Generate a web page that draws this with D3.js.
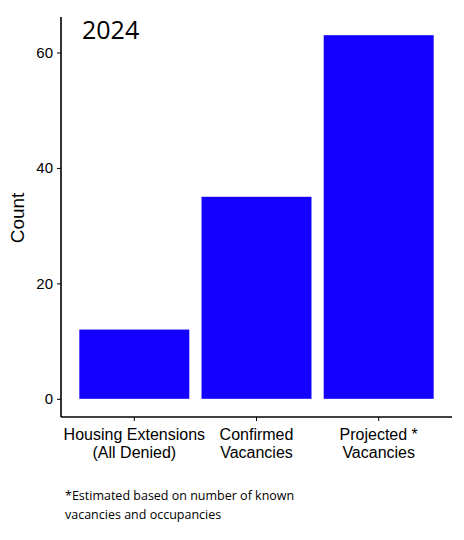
<!DOCTYPE html>
<html>
<head>
<meta charset="utf-8">
<script src="https://cdn.jsdelivr.net/npm/d3@7"></script>
<style>
  body { margin: 0; background: #fff; }
  text { font-family: "Liberation Sans", Arial, sans-serif; }
</style>
</head>
<body>
<svg id="chart" width="464" height="540"></svg>
<script>
var categories = ["Housing Extensions\n(All Denied)", "Confirmed\nVacancies", "Projected *\nVacancies"];
var counts = [12, 35, 63];
var yTicks = [0, 20, 40, 60];

var svg = d3.select("#chart");
var plotLeft = 61, plotRight = 452, plotTop = 17, plotBottom = 417;

// ggplot-style 5% expansion around 0..max
var maxVal = d3.max(counts);
var y = d3.scaleLinear()
    .domain([-0.05 * maxVal, maxVal * 1.05])
    .range([plotBottom, plotTop]);

var x = d3.scaleBand()
    .domain(categories)
    .range([plotLeft, plotRight])
    .paddingInner(0.1)
    .paddingOuter(0.15);

svg.selectAll("rect.bar")
  .data(counts)
  .enter().append("rect")
    .attr("class", "bar")
    .attr("x", function(d, i) { return x(categories[i]); })
    .attr("width", x.bandwidth())
    .attr("y", function(d) { return y(d); })
    .attr("height", function(d) { return y(0) - y(d); })
    .style("fill", "#1400FF");

// y axis
var yAxis = svg.append("g")
    .attr("transform", "translate(" + plotLeft + ",0)")
    .call(d3.axisLeft(y).tickValues(yTicks).tickSize(4).tickPadding(4));
yAxis.select(".domain").attr("d", "M0," + plotTop + "V" + plotBottom).attr("stroke-width", 1.6);
yAxis.selectAll("text").style("font-size", "15px").attr("fill", "#000");

// x axis
var xAxis = svg.append("g")
    .attr("transform", "translate(0," + plotBottom + ")")
    .call(d3.axisBottom(x).tickSize(4).tickPadding(4));
xAxis.select(".domain").attr("d", "M" + plotLeft + ",0H" + plotRight).attr("stroke-width", 1.6);
xAxis.selectAll("text").remove();
xAxis.selectAll(".tick").append("text")
    .attr("fill", "#000")
    .attr("text-anchor", "middle")
    .style("font-size", "16px")
    .selectAll("tspan")
    .data(function(d) { return d.split("\n"); })
    .enter().append("tspan")
      .attr("x", 0)
      .attr("y", function(d, i) { return 23 + i * 17.5; })
      .text(function(d) { return d; });

// y label
svg.append("text")
    .attr("transform", "translate(24,218) rotate(-90)")
    .attr("text-anchor", "middle")
    .style("font-size", "19px")
    .text("Count");

// title
svg.append("text")
    .attr("x", 82)
    .attr("y", 39)
    .style("font-family", "'Open Sans', sans-serif")
    .style("font-size", "25px")
    .text("2024");

// footnote
var note = svg.append("text")
    .style("font-family", "'Open Sans', sans-serif")
    .style("font-size", "12.5px");
note.append("tspan").attr("x", 65).attr("y", 500).text("*Estimated based on number of known");
note.append("tspan").attr("x", 65).attr("y", 519).text("vacancies and occupancies");
</script>
</body>
</html>
